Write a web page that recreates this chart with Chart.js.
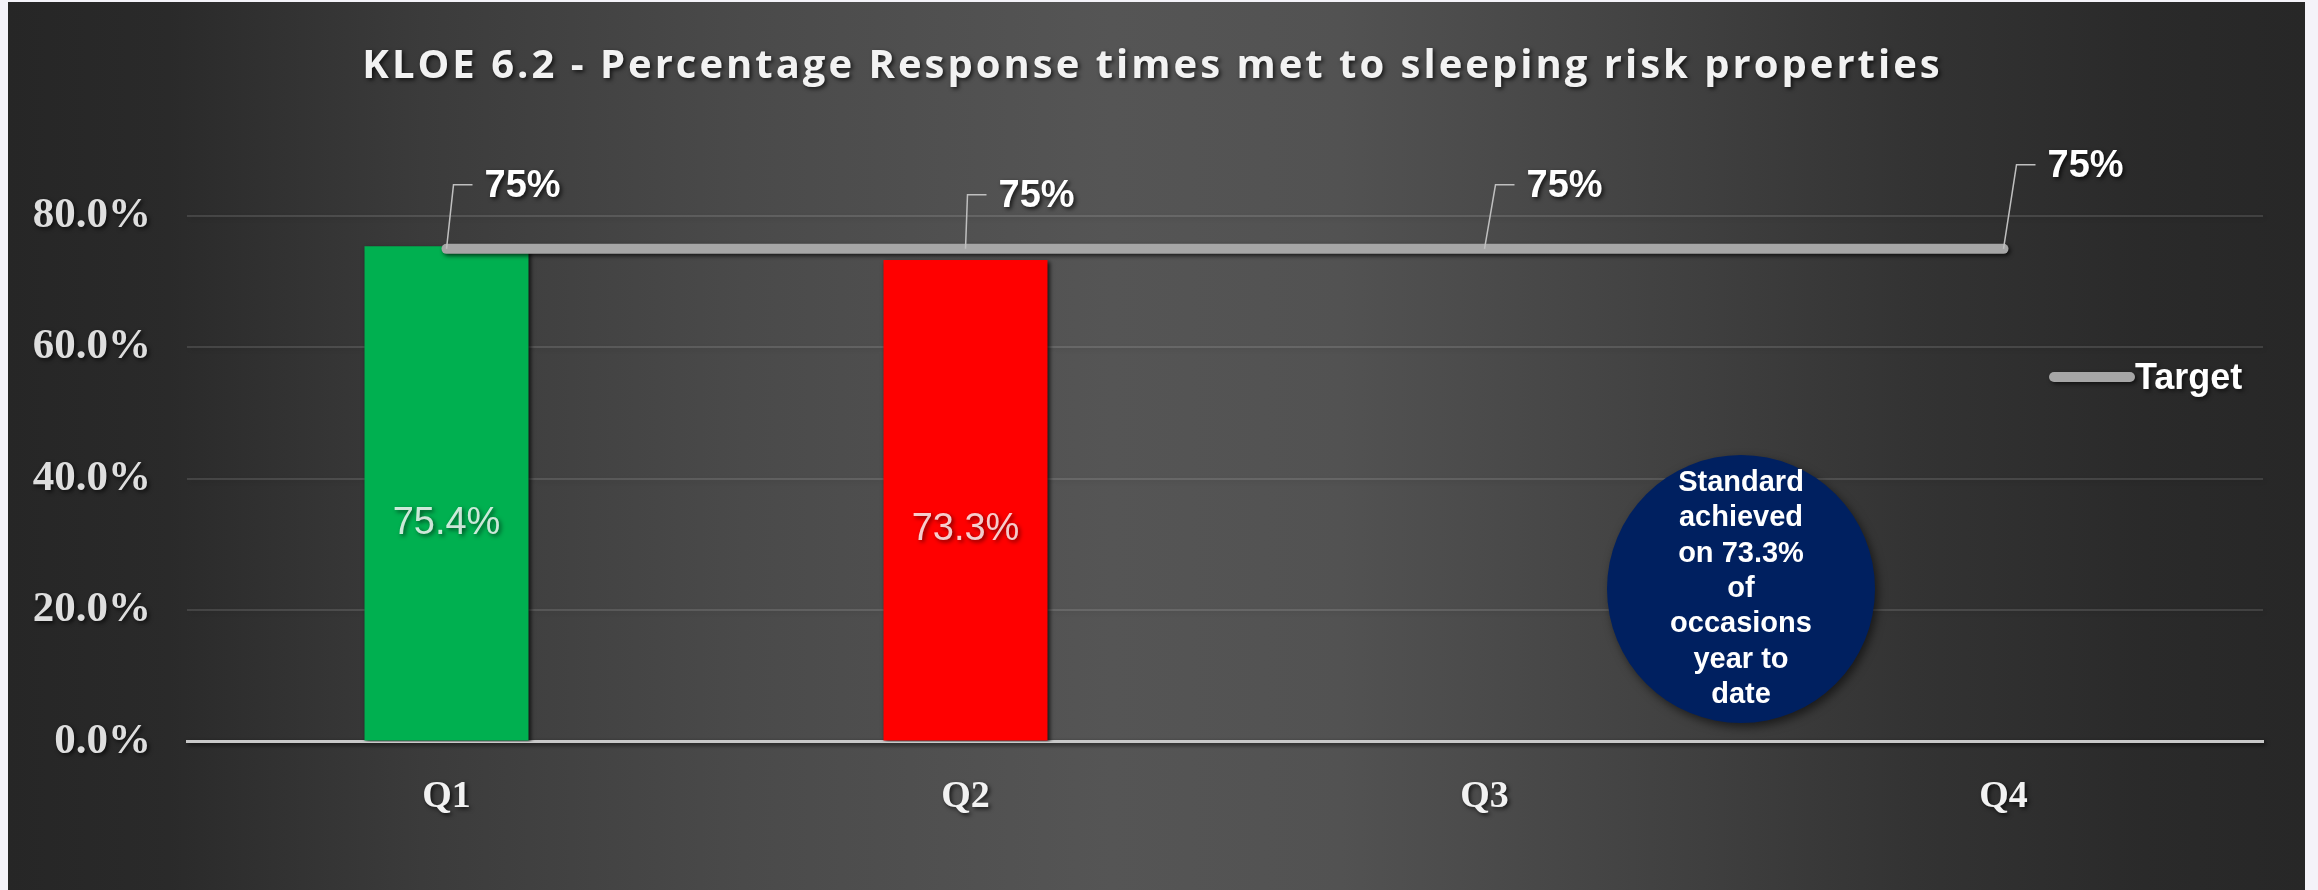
<!DOCTYPE html>
<html>
<head>
<meta charset="utf-8">
<title>KLOE 6.2</title>
<script src="https://cdn.jsdelivr.net/npm/chart.js@4.4.1/dist/chart.umd.min.js"></script>
<style>
  html, body { margin: 0; padding: 0; width: 2318px; height: 890px; overflow: hidden; background: #f4f3f9; }
  #frame {
    position: absolute; left: 8px; top: 2px; width: 2297px; height: 888px;
    background: linear-gradient(to right, #262626 0%, #2a2a2a 7%, #3b3b3b 18%, #4a4a4a 32%, #555555 48%, #525252 58%, #444444 70%, #333333 83%, #2a2a2a 93%, #272727 100%);
  }
  canvas { display: block; }
</style>
</head>
<body>
<div id="frame"><canvas id="chart" width="2297" height="888"></canvas></div>
<script>
// Quarterly results: share of sleeping-risk incidents where the response time was met
const categories = ['Q1', 'Q2', 'Q3', 'Q4'];
const actualValues = [75.4, 73.3, null, null];
const targetValues = [75, 75, 75, 75];
const yTickValues = [0, 20, 40, 60, 80];
const barColours = ['#00b050', '#ff0000', '#00b050', '#00b050'];
const titleText = 'KLOE 6.2 - Percentage Response times met to sleeping risk properties';
const noteLines = ['Standard', 'achieved', 'on 73.3%', 'of', 'occasions', 'year to', 'date'];

// Placement of the target labels (offset of the label's left/centre from its point)
const targetLabelOffsets = [
  { dx: 38, dy: -62 },
  { dx: 33, dy: -52 },
  { dx: 42, dy: -62 },
  { dx: 44, dy: -82 }
];

// Dark drop shadow behind everything Chart.js paints (text, lines, bars);
// the title gets extra letter spacing and is centred on the whole canvas.
const softShadow = {
  id: 'softShadow',
  beforeDraw(chart) {
    const tb = chart.titleBlock;
    if (tb && !tb._spaced) {
      const orig = tb.draw.bind(tb);
      tb.draw = function () {
        const c = this.ctx;
        c.save();
        c.translate(17, 0);
        c.letterSpacing = '3px';
        orig();
        c.restore();
      };
      tb._spaced = true;
    }
    const c = chart.ctx;
    c.save();
    c.shadowColor = 'rgba(0,0,0,0.7)';
    c.shadowBlur = 4;
    c.shadowOffsetX = 2;
    c.shadowOffsetY = 2;
  },
  afterDraw(chart) {
    chart.ctx.restore();
  }
};

// Value labels inside the bars
const barLabels = {
  id: 'barLabels',
  afterDatasetsDraw(chart) {
    const c = chart.ctx;
    const meta = chart.getDatasetMeta(0);
    const y = chart.scales.y;
    c.save();
    c.font = '38px "Liberation Sans", Arial, sans-serif';
    c.textAlign = 'center';
    c.textBaseline = 'middle';
    c.fillStyle = 'rgba(255,255,255,0.8)';
    meta.data.forEach((bar, i) => {
      const v = actualValues[i];
      if (v == null) return;
      c.fillText(v.toFixed(1) + '%', bar.x, y.getPixelForValue(v * 0.44));
    });
    c.restore();
  }
};

// Target labels with leader lines
const targetLabels = {
  id: 'targetLabels',
  afterDatasetsDraw(chart) {
    const c = chart.ctx;
    const meta = chart.getDatasetMeta(1);
    c.save();
    meta.data.forEach((pt, i) => {
      const off = targetLabelOffsets[i];
      const left = pt.x + off.dx;
      const cy = pt.y + off.dy;
      c.shadowColor = 'transparent';
      c.strokeStyle = '#bfbfbf';
      c.lineWidth = 1.5;
      c.beginPath();
      c.moveTo(pt.x, pt.y);
      c.lineTo(left - 31, cy - 2);
      c.lineTo(left - 12, cy - 2);
      c.stroke();
      c.shadowColor = 'rgba(0,0,0,0.75)';
      c.shadowBlur = 4;
      c.shadowOffsetX = 2;
      c.shadowOffsetY = 2;
      c.font = 'bold 38px "Liberation Sans", Arial, sans-serif';
      c.textAlign = 'left';
      c.textBaseline = 'middle';
      c.fillStyle = '#ffffff';
      c.fillText(targetValues[i] + '%', left, cy);
    });
    c.restore();
  }
};

// Legend entry for the target line and the year-to-date note
const extras = {
  id: 'extras',
  afterDraw(chart) {
    const c = chart.ctx;
    const ds = chart.data.datasets[1];
    c.save();
    // legend
    c.shadowColor = 'rgba(0,0,0,0.6)';
    c.shadowBlur = 4;
    c.shadowOffsetX = 2;
    c.shadowOffsetY = 2;
    c.strokeStyle = ds.borderColor;
    c.lineWidth = 10;
    c.lineCap = 'round';
    c.beginPath();
    c.moveTo(2046, 375);
    c.lineTo(2122, 375);
    c.stroke();
    c.font = 'bold 36px "Liberation Sans", Arial, sans-serif';
    c.fillStyle = '#ffffff';
    c.textAlign = 'left';
    c.textBaseline = 'middle';
    c.fillText(ds.label, 2127, 377);
    // note bubble
    c.shadowColor = 'rgba(0,0,0,0.55)';
    c.shadowBlur = 10;
    c.shadowOffsetX = 3;
    c.shadowOffsetY = 4;
    c.fillStyle = '#002060';
    c.beginPath();
    c.arc(1733, 587, 134, 0, Math.PI * 2);
    c.fill();
    c.shadowColor = 'transparent';
    c.fillStyle = '#ffffff';
    c.font = 'bold 29px "Liberation Sans", Arial, sans-serif';
    c.textAlign = 'center';
    const pitch = 35.3;
    const y0 = 587 - pitch * (noteLines.length - 1) / 2;
    noteLines.forEach((t, i) => c.fillText(t, 1733, y0 + i * pitch));
    c.restore();
  }
};

new Chart(document.getElementById('chart'), {
  data: {
    labels: categories,
    datasets: [
      {
        type: 'bar',
        label: 'Actual',
        data: actualValues,
        backgroundColor: barColours,
        borderWidth: 0,
        categoryPercentage: 1,
        barPercentage: 0.316,
        order: 2
      },
      {
        type: 'line',
        label: 'Target',
        data: targetValues,
        borderColor: '#a6a6a6',
        borderWidth: 10,
        borderCapStyle: 'round',
        pointRadius: 0,
        fill: false,
        order: 1
      }
    ]
  },
  options: {
    responsive: false,
    animation: false,
    devicePixelRatio: 1,
    layout: { padding: { left: 0, right: 42, top: 0, bottom: 0 } },
    plugins: {
      legend: { display: false },
      tooltip: { enabled: false },
      title: {
        display: true,
        text: titleText,
        color: '#f2f2f2',
        font: { family: '"Open Sans", sans-serif', weight: 'bold', size: 40, lineHeight: 1.2 },
        padding: { top: 41, bottom: 125 }
      }
    },
    scales: {
      x: {
        grid: { display: false, drawTicks: false },
        border: { display: true, color: '#c8c8c8', width: 3 },
        ticks: {
          color: '#f2f2f2',
          padding: 33,
          font: { family: '"Liberation Serif", serif', weight: 'bold', size: 38 }
        },
        afterFit(s) { s.height = 148.5; }
      },
      y: {
        min: 0,
        max: 80,
        afterBuildTicks(s) { s.ticks = yTickValues.map(v => ({ value: v })); },
        grid: {
          drawTicks: false,
          lineWidth: 2,
          color: ctx => (ctx.tick && ctx.tick.value === 0) ? 'rgba(0,0,0,0)' : 'rgba(255,255,255,0.12)'
        },
        border: { display: false },
        ticks: {
          color: '#dedede',
          padding: 36,
          font: { family: '"Liberation Serif", serif', weight: 'bold', size: 43 },
          callback: v => Number(v).toFixed(1) + '%'
        },
        afterFit(s) { s.width = 179; }
      }
    }
  },
  plugins: [softShadow, barLabels, targetLabels, extras]
});
</script>
</body>
</html>
